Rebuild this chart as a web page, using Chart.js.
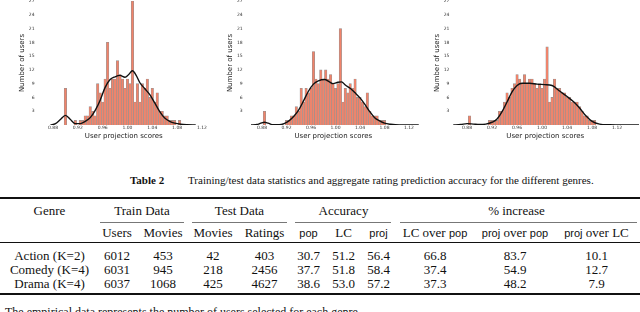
<!DOCTYPE html>
<html>
<head>
<meta charset="utf-8">
<script src="https://cdn.jsdelivr.net/npm/chart.js@4.4.1/dist/chart.umd.min.js"></script>
<style>
  html, body { margin: 0; padding: 0; background: #fff; }
  body { width: 640px; height: 312px; position: relative; overflow: hidden; }
  canvas { position: absolute; top: 0; }
  .serif { font-family: 'Liberation Serif', 'DejaVu Serif', serif; color: #111; }
  .sf { font-family: 'Liberation Sans', 'DejaVu Sans', sans-serif; font-size: 11px; }
  #caption { position: absolute; top: 174px; left: 0; width: 640px; height: 13px; font-size: 11px; line-height: 13px; }
  #caption b { position: absolute; left: 130px; }
  #caption span { position: absolute; left: 188px; white-space: nowrap; }
  .row { position: absolute; left: 3px; display: grid; grid-template-columns: 93px 42px 50px 50px 53px 35px 35px 35px 78px 82px 81px;
         font-size: 13px; line-height: 14px; height: 14px; white-space: nowrap; }
  .row div { text-align: center; }
  .rule { position: absolute; background: #111; }
  .cmid { position: absolute; background: #777; }
  #foot { position: absolute; left: 5px; top: 305px; font-size: 12px; line-height: 14px; white-space: nowrap; }
</style>
</head>
<body>
<canvas id="histAction" width="210" height="142" style="left:0px"></canvas>
<canvas id="histComedy" width="210" height="142" style="left:210px"></canvas>
<canvas id="histDrama" width="220" height="142" style="left:420px"></canvas>

<div id="caption" class="serif"><b>Table 2</b><span>Training/test data statistics and aggregate rating prediction accuracy for the different genres.</span></div>
<div id="table" class="serif"></div>
<div id="foot" class="serif">The empirical data represents the number of users selected for each genre.</div>

<script>
// histogram bins (bin centres, width 0.004)
const binCenters = [0.884, 0.888, 0.892, 0.896, 0.900, 0.904, 0.908, 0.912, 0.916, 0.920,
                    0.924, 0.928, 0.932, 0.936, 0.940, 0.944, 0.948, 0.952, 0.956, 0.960,
                    0.964, 0.968, 0.972, 0.976, 0.980, 0.984, 0.988, 0.992, 0.996, 1.000,
                    1.004, 1.008, 1.012, 1.016, 1.020, 1.024, 1.028, 1.032, 1.036, 1.040,
                    1.044, 1.048, 1.052, 1.056, 1.060, 1.064, 1.068, 1.072, 1.076, 1.080,
                    1.084, 1.088, 1.092];

const actionCounts = [0, 0, 0, 0, 8, 0, 0, 0, 1, 0,
                      1, 1, 2, 2, 4, 3, 2, 9, 7, 5,
                      10, 18, 8, 10, 10, 14, 11, 10, 8, 10,
                      9, 27, 5, 9, 5, 9, 8, 10, 6, 8,
                      5, 7, 3, 3, 2, 2, 1, 1, 1, 0,
                      1, 0, 0];
const comedyCounts = [3, 0, 0, 0, 0, 0, 0, 0, 0, 1,
                      1, 2, 2, 4, 3, 8, 5, 8, 7, 8,
                      16, 10, 9, 12, 10, 12, 10, 11, 9, 8,
                      9, 21, 5, 8, 7, 9, 8, 10, 6, 6,
                      5, 4, 7, 3, 2, 2, 2, 1, 1, 1,
                      0, 0, 0];
const dramaCounts = [2, 0, 0, 0, 0, 0, 0, 0, 1, 1,
                     1, 1, 3, 3, 5, 7, 6, 8, 9, 11,
                     10, 9, 11, 9, 10, 10, 9, 8, 9, 8,
                     10, 17, 5, 6, 10, 8, 8, 7, 7, 6,
                     6, 5, 5, 5, 4, 3, 2, 2, 1, 1,
                     1, 0, 0];

// density curves
const actionKdeX = [0.876, 0.884, 0.892, 0.900, 0.908, 0.916, 0.924, 0.932, 0.940, 0.948,
                    0.956, 0.964, 0.972, 0.980, 0.988, 0.996, 1.002, 1.008, 1.014, 1.020,
                    1.028, 1.036, 1.044, 1.052, 1.060, 1.068, 1.076, 1.086, 1.096, 1.110];
const actionKdeY = [0, 0.3, 1.2, 2.1, 1.2, 0.3, 0.3, 0.8, 1.6, 3.2,
                    5.4, 8.2, 9.9, 10.5, 10.8, 10.4, 11.0, 11.8, 10.8, 9.2,
                    7.9, 6.6, 4.8, 2.9, 1.5, 0.8, 0.4, 0.15, 0.05, 0];
const comedyKdeX = [0.862, 0.872, 0.878, 0.884, 0.890, 0.898, 0.908, 0.916, 0.924, 0.932,
                    0.940, 0.948, 0.956, 0.964, 0.972, 0.982, 0.990, 0.996, 1.004, 1.010,
                    1.016, 1.024, 1.032, 1.040, 1.048, 1.056, 1.064, 1.072, 1.080, 1.090,
                    1.104, 1.136];
const comedyKdeY = [0, 0.1, 0.4, 0.6, 0.4, 0.05, 0.05, 0.3, 0.9, 1.9,
                    3.3, 5.3, 7.4, 8.9, 9.6, 9.9, 9.4, 9.0, 9.3, 9.4,
                    8.7, 8.0, 7.0, 5.9, 4.5, 2.9, 1.6, 0.9, 0.4, 0.15,
                    0, 0];
const dramaKdeX = [0.858, 0.870, 0.880, 0.890, 0.900, 0.910, 0.920, 0.928, 0.936, 0.944,
                   0.952, 0.960, 0.968, 0.980, 0.992, 1.004, 1.016, 1.028, 1.040, 1.050,
                   1.060, 1.070, 1.080, 1.092, 1.108, 1.130, 1.155];
const dramaKdeY = [0, 0.1, 0.3, 0.2, 0.1, 0.2, 0.6, 1.3, 2.9, 5.0,
                   7.2, 8.6, 9.1, 9.1, 8.9, 8.8, 8.6, 7.4, 6.2, 5.1,
                   3.7, 2.0, 0.8, 0.2, 0.05, 0, 0];

const xTicks = [0.88, 0.92, 0.96, 1.00, 1.04, 1.08, 1.12];
const yTicks = [3, 6, 9, 12, 15, 18, 21, 24, 27];

// table 2
const genres = ['Action (K=2)', 'Comedy (K=4)', 'Drama (K=4)'];
const trainUsers = [6012, 6031, 6037];
const trainMovies = [453, 945, 1068];
const testMovies = [42, 218, 425];
const testRatings = [403, 2456, 4627];
const accPop = [30.7, 37.7, 38.6];
const accLC = [51.2, 51.8, 53.0];
const accProj = [56.4, 58.4, 57.2];
const incLCOverPop = [66.8, 37.4, 37.3];
const incProjOverPop = [83.7, 54.9, 48.2];
const incProjOverLC = [10.1, 12.7, 7.9];

const BAR_FILL = '#f1836a';
const BAR_EDGE = '#939393';
const AXIS_FONT = 'DejaVu Sans';

function histChart(id, counts, kdeX, kdeY, frame) {
    const bars = binCenters.map((x, i) => ({ x, y: counts[i] })).filter(p => p.y > 0);
    const kde = kdeX.map((x, i) => ({ x, y: kdeY[i] }));
    return new Chart(document.getElementById(id), {
        type: 'bar',
        data: {
            datasets: [{
                type: 'line',
                data: kde,
                borderColor: '#111',
                borderWidth: 1.4,
                pointRadius: 0,
                cubicInterpolationMode: 'monotone',
                order: 0
            }, {
                data: bars,
                backgroundColor: BAR_FILL,
                borderColor: BAR_EDGE,
                borderWidth: 0.6,
                barPercentage: 1,
                categoryPercentage: 1,
                order: 1
            }]
        },
        options: {
            responsive: false,
            animation: false,
            events: [],
            layout: { padding: { top: 1, right: frame.right, bottom: 0, left: 0 } },
            plugins: { legend: { display: false }, tooltip: { enabled: false } },
            scales: {
                x: {
                    type: 'linear',
                    offset: false,
                    min: 0.855,
                    max: frame.xMax,
                    grid: { display: false, drawTicks: false },
                    border: { display: false },
                    afterBuildTicks: s => { s.ticks = xTicks.map(v => ({ value: v })); },
                    afterFit: s => { s.height = 17; s.paddingLeft = 0; s.paddingRight = 0; },
                    ticks: {
                        font: { family: AXIS_FONT, size: 4.5 },
                        color: '#333',
                        padding: 0,
                        maxRotation: 0,
                        autoSkip: false,
                        callback: v => v.toFixed(2)
                    },
                    title: {
                        display: true,
                        text: 'User projection scores',
                        font: { family: AXIS_FONT, size: 7 },
                        color: '#222',
                        padding: { top: 0, bottom: 1.8 }
                    }
                },
                y: {
                    min: 0,
                    max: 27,
                    grid: { display: false, drawTicks: false },
                    border: { display: false },
                    afterBuildTicks: s => { s.ticks = yTicks.map(v => ({ value: v })); },
                    afterFit: s => { s.width = frame.left; s.paddingTop = 0; s.paddingBottom = 0; },
                    ticks: {
                        font: { family: AXIS_FONT, size: 4.5 },
                        color: '#333',
                        padding: frame.tickPad,
                        autoSkip: false
                    },
                    title: {
                        display: true,
                        text: 'Number of users',
                        font: { family: AXIS_FONT, size: 7 },
                        color: '#222',
                        padding: { top: frame.titleX - 4.2, bottom: 0 }
                    }
                }
            }
        }
    });
}

histChart('histAction', actionCounts, actionKdeX, actionKdeY, { xMax: 1.133, left: 37.5, right: 0, titleX: 22, tickPad: 3 });
histChart('histComedy', comedyCounts, comedyKdeX, comedyKdeY, { xMax: 1.138, left: 36.7, right: 0, titleX: 20, tickPad: 4 });
histChart('histDrama', dramaCounts, dramaKdeX, dramaKdeY, { xMax: 1.155, left: 31.4, right: 1, titleX: 17, tickPad: 2 });

// ---- table ----
const table = document.getElementById('table');
const sf = t => '<span class="sf">' + t + '</span>';

function addRow(top, cells) {
    const row = document.createElement('div');
    row.className = 'row';
    row.style.top = top + 'px';
    cells.forEach(c => {
        const d = document.createElement('div');
        d.innerHTML = c.html;
        if (c.span) d.style.gridColumn = 'span ' + c.span;
        row.appendChild(d);
    });
    table.appendChild(row);
}

function addRule(top, h, left, width, cls) {
    const r = document.createElement('div');
    r.className = cls || 'rule';
    r.style.top = top + 'px';
    r.style.height = h + 'px';
    r.style.left = left + 'px';
    r.style.width = width + 'px';
    table.appendChild(r);
}

addRule(197, 1.6, 0, 640);
addRow(204, [
    { html: 'Genre' },
    { html: 'Train Data', span: 2 },
    { html: 'Test Data', span: 2 },
    { html: 'Accuracy', span: 3 },
    { html: '% increase', span: 3 }
]);
// cmidrules under the column groups
addRule(222, 1, 100, 84, 'cmid');
addRule(222, 1, 192, 95, 'cmid');
addRule(222, 1, 295, 96, 'cmid');
addRule(222, 1, 400, 237, 'cmid');
addRow(226, [
    { html: '' }, { html: 'Users' }, { html: 'Movies' }, { html: 'Movies' }, { html: 'Ratings' },
    { html: sf('pop') }, { html: 'LC' }, { html: sf('proj') },
    { html: 'LC over ' + sf('pop') }, { html: sf('proj') + ' over ' + sf('pop') }, { html: sf('proj') + ' over LC' }
]);
addRule(242, 1.4, 0, 640);
genres.forEach((g, i) => {
    addRow(249 + i * 14, [
        { html: g },
        { html: String(trainUsers[i]) },
        { html: String(trainMovies[i]) },
        { html: String(testMovies[i]) },
        { html: String(testRatings[i]) },
        { html: accPop[i].toFixed(1) },
        { html: accLC[i].toFixed(1) },
        { html: accProj[i].toFixed(1) },
        { html: incLCOverPop[i].toFixed(1) },
        { html: incProjOverPop[i].toFixed(1) },
        { html: incProjOverLC[i].toFixed(1) }
    ]);
});
addRule(293, 1.6, 0, 640);
</script>
</body>
</html>
